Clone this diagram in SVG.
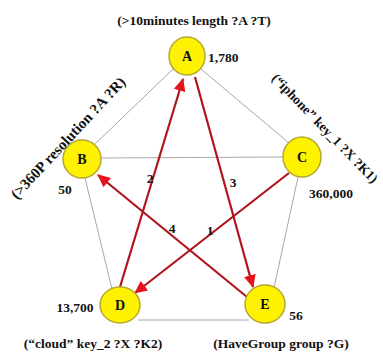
<svg xmlns="http://www.w3.org/2000/svg" width="383" height="354" viewBox="0 0 383 354">
<style>
.t{font-family:"Liberation Serif","Times New Roman",serif;font-weight:bold;fill:#111}
.n{fill:#fff200;stroke:#b4a830;stroke-width:1.5}
.g{stroke:#a8a8a8;stroke-width:1;fill:none}
.r{stroke:#b0141c;stroke-width:2.2;fill:none;marker-end:url(#ah)}
</style>
<defs>
<marker id="ah" markerWidth="14" markerHeight="12" refX="12" refY="6" orient="auto" markerUnits="userSpaceOnUse">
<path d="M0,0 L13,6 L0,12 Z" fill="#e5141c"/>
</marker>
</defs>
<rect width="383" height="354" fill="#fff"/>
<g id="connectors">
<line class="g" x1="173" y1="69" x2="94" y2="145"/>
<line class="g" x1="201" y1="69" x2="289" y2="143"/>
<line class="g" x1="101" y1="158" x2="283" y2="157"/>
<line class="g" x1="85" y1="178" x2="112" y2="289"/>
<line class="g" x1="298" y1="177" x2="274" y2="288"/>
<line class="g" x1="138" y1="320" x2="249" y2="320"/>
<line class="r" x1="289" y1="173" x2="135" y2="293"/>
<line class="r" x1="120" y1="287" x2="183" y2="79"/>
<line class="r" x1="195" y1="77" x2="253" y2="287"/>
<line class="r" x1="247" y1="297" x2="98" y2="175"/>
<text class="t" x="210" y="235" font-size="13.5" text-anchor="middle">1</text>
<text class="t" x="150" y="183" font-size="13.5" text-anchor="middle">2</text>
<text class="t" x="233" y="187" font-size="13.5" text-anchor="middle">3</text>
<text class="t" x="172" y="233" font-size="13.5" text-anchor="middle">4</text>
</g>
<g id="A">
<ellipse class="n" cx="187" cy="56" rx="18" ry="19"/>
<text class="t" x="187" y="61" font-size="14" text-anchor="middle">A</text>
<text class="t" x="208" y="62" font-size="13.5">1,780</text>
<text class="t" x="194" y="25" font-size="13.5" text-anchor="middle">(&gt;10minutes length ?A ?T)</text>
</g>
<g id="B">
<ellipse class="n" cx="82" cy="159" rx="19" ry="19"/>
<text class="t" x="82" y="164" font-size="14" text-anchor="middle">B</text>
<text class="t" x="65" y="194" font-size="13.5" text-anchor="middle">50</text>
<text class="t" font-size="15" transform="translate(17,200) rotate(-47)">(&gt;360P resolution ?A ?R)</text>
</g>
<g id="C">
<ellipse class="n" cx="302" cy="157" rx="19" ry="20"/>
<text class="t" x="302" y="162" font-size="14" text-anchor="middle">C</text>
<text class="t" x="331" y="198" font-size="13.5" text-anchor="middle">360,000</text>
<text class="t" font-size="13.5" transform="translate(271,79) rotate(46)">(“iphone” key_1 ?X ?K1)</text>
</g>
<g id="D">
<ellipse class="n" cx="120" cy="305" rx="20" ry="18"/>
<text class="t" x="120" y="310" font-size="14" text-anchor="middle">D</text>
<text class="t" x="75" y="312" font-size="13.5" text-anchor="middle">13,700</text>
<text class="t" x="93" y="348" font-size="13.5" text-anchor="middle">(“cloud” key_2 ?X ?K2)</text>
</g>
<g id="E">
<ellipse class="n" cx="265" cy="304" rx="20" ry="19"/>
<text class="t" x="265" y="309" font-size="14" text-anchor="middle">E</text>
<text class="t" x="296" y="320" font-size="13.5" text-anchor="middle">56</text>
<text class="t" x="281" y="348" font-size="13.5" text-anchor="middle">(HaveGroup group ?G)</text>
</g>
</svg>
